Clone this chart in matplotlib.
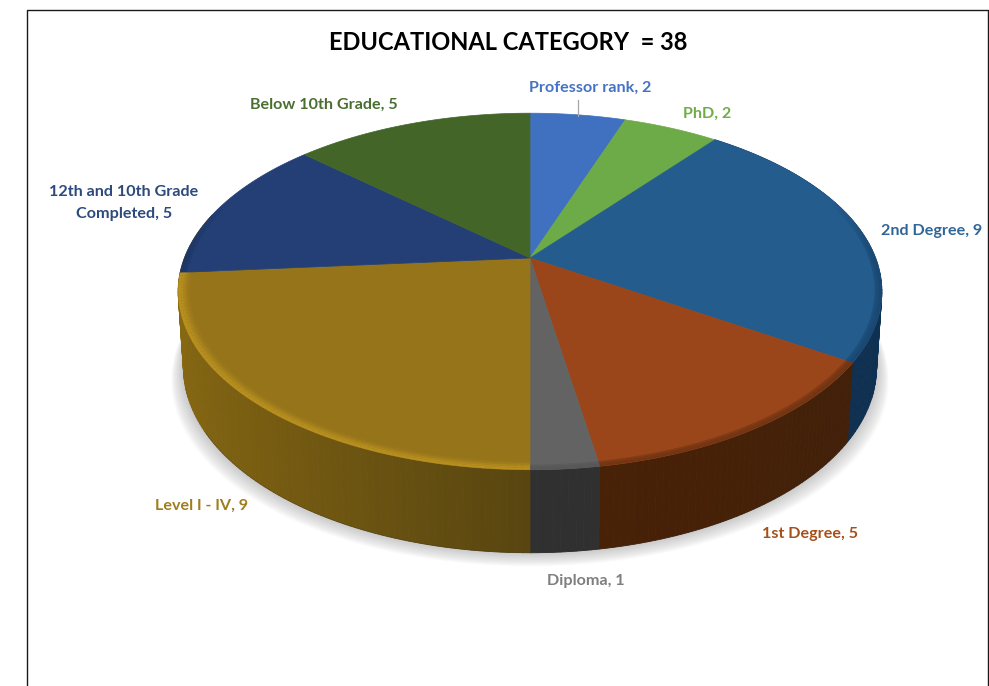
import numpy as np
import matplotlib
matplotlib.use("Agg")
import matplotlib.pyplot as plt
from matplotlib.patches import Polygon
from matplotlib.lines import Line2D

# Slice values, clockwise from the top of the pie
categories = ["Professor rank", "PhD", "2nd Degree", "1st Degree", "Diploma",
              "Level I - IV", "12th and 10th Grade\nCompleted", "Below 10th Grade"]
counts = [2, 2, 9, 5, 1, 9, 5, 5]
title = "EDUCATIONAL CATEGORY  = 38"

top_colors = ["#4070c0", "#6dab48", "#245c8e", "#9a461a", "#636363", "#96741a", "#233f75", "#436628"]
label_colors = ["#4472c4", "#70ad47", "#2f6699", "#a5501a", "#7f7f7f", "#a07d1c", "#2c4a7c", "#4b6e31"]
wall_side = ["#2a4a80", "#46702c", "#0f3152", "#40200a", "#333333", "#876812", "#182c4e", "#2b431b"]
wall_front = ["#2a4a80", "#46702c", "#0c2a48", "#4a2206", "#303030", "#584510", "#182c4e", "#2b431b"]
rim_colors = ["#2a4a80", "#46702c", "#0e2f50", "#42200a", "#4a4a4a", "#bd9420", "#182c4e", "#2b431b"]
rim_strength = [0.5, 0.5, 0.5, 0.5, 0.5, 1.0, 0.5, 0.5]

# Pixel-space layout of the tilted disc
CX, CY = 530, 258
A, B, C = 172.0, 0.1877, 345.6

fig = plt.figure(figsize=(9.89, 6.86), dpi=100)
ax = fig.add_axes([0, 0, 1, 1])
ax.set_xlim(0, 989)
ax.set_ylim(686, 0)
ax.axis("off")


# Perspective projection of the unit disc, t in degrees clockwise from the top
def project(t, r=1.0):
    t = np.radians(t)
    X = r * np.sin(t)
    Y = -r * np.cos(t)
    d = 1 - B * Y
    return CX + C * X / d, CY + A * Y / d


def project_bottom(t):
    x, y = project(t)
    Y = -np.cos(np.radians(t))
    return CX + 0.985 * (x - CX), y + 74 + 9 * Y


def hex_rgb(h):
    return np.array(matplotlib.colors.to_rgb(h))


total = sum(counts)
edges = np.cumsum([0] + counts) / total * 360

# Soft shadow under the disc
ts = np.linspace(0, 360, 361)
bx, by = project_bottom(ts)
for k in range(16, 0, -1):
    ex = CX + (bx - CX) * (1 + k * 0.0022)
    ey = by + k * 0.85
    ax.add_patch(Polygon(np.c_[ex, ey], closed=True, fc="#6e6e6e", ec="none", alpha=0.022, zorder=1))

# Side walls, built from narrow quads so the shade can vary around the rim
for i in range(len(counts)):
    t0, t1 = edges[i], edges[i + 1]
    # back-facing slices get no wall, the near slice wraps round the left edge instead
    if -np.cos(np.radians((t0 + t1) / 2)) < -0.2:
        continue
    if t1 > 260 and t1 < 300:
        t1 = t1 + 20
    n = max(int(t1 - t0), 2)
    steps = np.linspace(t0, t1, n + 1)
    for a, b in zip(steps[:-1], steps[1:]):
        m = (a + b) / 2
        f = abs(np.sin(np.radians(m)))
        col = hex_rgb(wall_front[i]) * (1 - f) + hex_rgb(wall_side[i]) * f
        xa, ya = project(a)
        xb, yb = project(b)
        xc, yc = project_bottom(b)
        xd, yd = project_bottom(a)
        ax.add_patch(Polygon([(xa, ya), (xb, yb), (xc, yc), (xd, yd)], closed=True,
                             fc=col, ec=col, lw=0.6, zorder=2))

# Thin dark line along the foot of the wall
fx, fy = project_bottom(np.linspace(120, 240, 121))
ax.plot(fx, fy, color="#222222", lw=0.5, alpha=0.3, zorder=3)

# Top faces
for i in range(len(counts)):
    arc = np.linspace(edges[i], edges[i + 1], 80)
    x, y = project(arc)
    pts = np.r_[[(CX, CY)], np.c_[x, y]]
    ax.add_patch(Polygon(pts, closed=True, fc=top_colors[i], ec=top_colors[i], lw=0.5, zorder=4))

# Bevel along the near rim of the top face
radii = [0.968, 0.974, 0.98, 0.986, 0.992, 1.0]
alphas = [0.12, 0.3, 0.55, 0.8, 0.9]
for i in range(len(counts)):
    t0, t1 = edges[i], edges[i + 1]
    steps = np.linspace(t0, t1, max(int(t1 - t0), 2) + 1)
    for a, b in zip(steps[:-1], steps[1:]):
        Y = -np.cos(np.radians((a + b) / 2))
        vis = np.clip((Y + 0.35) / 0.35, 0, 1)
        if vis == 0:
            continue
        for j, al in enumerate(alphas):
            if rim_strength[i] < 1 and j < 2:
                continue
            xa, ya = project(a, radii[j])
            xb, yb = project(b, radii[j])
            xc, yc = project(b, radii[j + 1])
            xd, yd = project(a, radii[j + 1])
            ax.add_patch(Polygon([(xa, ya), (xb, yb), (xc, yc), (xd, yd)], closed=True, fc=rim_colors[i],
                                 ec="none", alpha=al * vis * rim_strength[i], zorder=5))

# Frame: left, top and right only, it runs off the bottom
frame_x = [27, 27, 988, 988]
frame_y = [686, 10, 10, 686]
ax.add_line(Line2D(frame_x, frame_y, color="#1a1a1a", lw=1.0, zorder=6))

# Leader for the first label
ax.add_line(Line2D([578, 578], [100, 116], color="#a6a6a6", lw=0.9, zorder=6))

ax.text(508, 43, title, ha="center", va="center", family="Lato", weight="bold",
        fontsize=17, color="#000000", zorder=7)

# Data labels read "<category>, <count>"
label_pos = [(590, 88), (707, 114), (932, 231), (810, 534), (586, 581), (202, 506), (124, 203), (324, 105)]
for name, n, col, (lx, ly) in zip(categories, counts, label_colors, label_pos):
    ax.text(lx, ly, f"{name}, {n}", ha="center", va="center", family="Lato", weight="bold",
            fontsize=11.6, color=col, linespacing=1.7, zorder=7)

fig.savefig("out.png", dpi=100, facecolor="white")
